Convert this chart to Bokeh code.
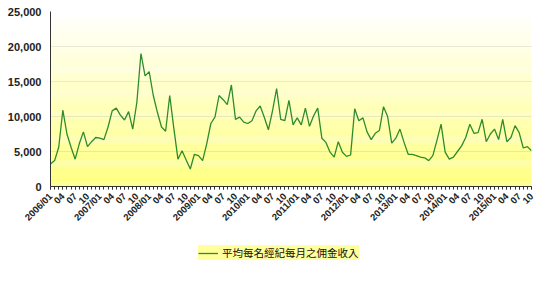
import numpy as np
from bokeh.plotting import figure
from bokeh.layouts import column
from bokeh.models import FixedTicker, NumeralTickFormatter, Legend, LegendItem, Range1d
from bokeh.embed import file_html
from bokeh.resources import INLINE
from math import pi

# Monthly values 2006/01 .. 2015/10
months = [f"{y}/{m:02d}" for y in range(2006, 2016) for m in range(1, 13)][:118]
commission = [
    3200, 3700, 5600, 10900, 7500, 5600, 3900, 6100, 7800, 5700, 6400, 7000,
    6900, 6700, 8500, 10800, 11200, 10200, 9500, 10700, 8200, 12000, 19000, 15800,
    16400, 13000, 10600, 8500, 7900, 13000, 8300, 3900, 5100, 3800, 2500, 4600,
    4400, 3700, 6100, 9000, 9900, 13000, 12400, 11700, 14500, 9600, 9900, 9200,
    9000, 9400, 10800, 11500, 9900, 8100, 10800, 14000, 9600, 9400, 12300, 8800,
    9800, 8800, 11200, 8600, 10100, 11200, 6900, 6300, 4900, 4200, 6400, 4900,
    4300, 4500, 11100, 9400, 9800, 7800, 6700, 7600, 8000, 11400, 10000, 6200,
    6900, 8200, 6300, 4600, 4600, 4400, 4200, 4100, 3700, 4400, 6600, 8900,
    4900, 3900, 4200, 5000, 5800, 7000, 8900, 7600, 7700, 9600, 6400, 7500,
    8200, 6700, 9600, 6400, 7000, 8700, 7700, 5500, 5700, 5100,
]
series_name = "平均每名經紀每月之佣金收入"
y_ticks = [0, 5000, 10000, 15000, 20000, 25000]

LINE_COLOR = "#2e8b2e"

x = list(range(len(commission)))
tick_pos = list(range(0, len(commission), 3))
tick_labels = {i: (months[i] if months[i].endswith("/01") else months[i][-2:]) for i in tick_pos}

p = figure(width=550, height=235, output_backend="svg", toolbar_location=None,
           x_range=Range1d(0, len(commission) - 1), y_range=Range1d(0, 25000),
           min_border_left=50, min_border_right=19, min_border_top=11, min_border_bottom=49)
p.outline_line_color = None
p.background_fill_color = "white"

# gradient background for plot area
n = 80
edges = np.linspace(0, 25000, n + 1)
cols = []
for i in range(n):
    t = (i + 0.5) / n  # 0 bottom -> 1 top
    b = int(round(128 + (255 - 128) * t))
    cols.append(f"#ffff{b:02x}")
p.quad(left=0, right=len(commission) - 1, bottom=edges[:-1], top=edges[1:],
       fill_color=cols, line_color=None)

r = p.line(x, commission, line_color=LINE_COLOR, line_width=1.3)

# axes
p.yaxis.ticker = FixedTicker(ticks=y_ticks)
p.yaxis.formatter = NumeralTickFormatter(format="0,0")
p.yaxis.major_label_text_font = "Liberation Sans"
p.yaxis.major_label_text_font_style = "bold"
p.yaxis.major_label_text_font_size = "11px"
p.yaxis.major_label_text_color = "#222222"
p.yaxis.major_label_standoff = 9
p.yaxis.axis_line_color = "#333333"
p.yaxis.major_tick_out = 0
p.yaxis.major_tick_in = 0
p.yaxis.minor_tick_line_color = None

p.xaxis.ticker = FixedTicker(ticks=tick_pos, minor_ticks=x)
p.xaxis.major_label_overrides = tick_labels
p.xaxis.major_label_orientation = pi / 4
p.xaxis.major_label_text_font = "Liberation Sans"
p.xaxis.major_label_text_font_style = "bold"
p.xaxis.major_label_text_font_size = "9.5px"
p.xaxis.major_label_text_color = "#222222"
p.xaxis.axis_line_color = "#333333"
p.xaxis.major_tick_out = 3
p.xaxis.major_tick_in = 0
p.xaxis.minor_tick_out = 3
p.xaxis.minor_tick_in = 0
p.xaxis.major_tick_line_color = "#333333"
p.xaxis.minor_tick_line_color = "#333333"

p.ygrid.ticker = FixedTicker(ticks=y_ticks)
p.ygrid.grid_line_color = "#aaaaaa"
p.xgrid.grid_line_color = None

# legend panel (separate strip below the chart)
q = figure(width=550, height=50, output_backend="svg", toolbar_location=None,
           x_range=Range1d(0, 1), y_range=Range1d(0, 1),
           x_axis_location=None, y_axis_location=None,
           min_border=0, outline_line_color=None)
q.grid.visible = False
q.background_fill_color = "white"
# legend key line (kept outside the visible range; only its legend glyph shows)
r2 = q.line(x=[-5, -4], y=[-5, -4], line_color=LINE_COLOR, line_width=1.3)
legend = Legend(items=[LegendItem(label=series_name, renderers=[r2])],
                location=(148, 25), orientation="horizontal",
                background_fill_color="#ffff9c", background_fill_alpha=1.0,
                border_line_color=None, label_text_font="Noto Sans CJK TC",
                label_text_font_size="10.5px", label_text_color="#111111",
                glyph_width=20, glyph_height=12, padding=5, margin=0, spacing=4,
                label_standoff=4)
q.add_layout(legend, "center")

layout = column(p, q, spacing=0)
open("out.html", "w").write(file_html(layout, INLINE))
